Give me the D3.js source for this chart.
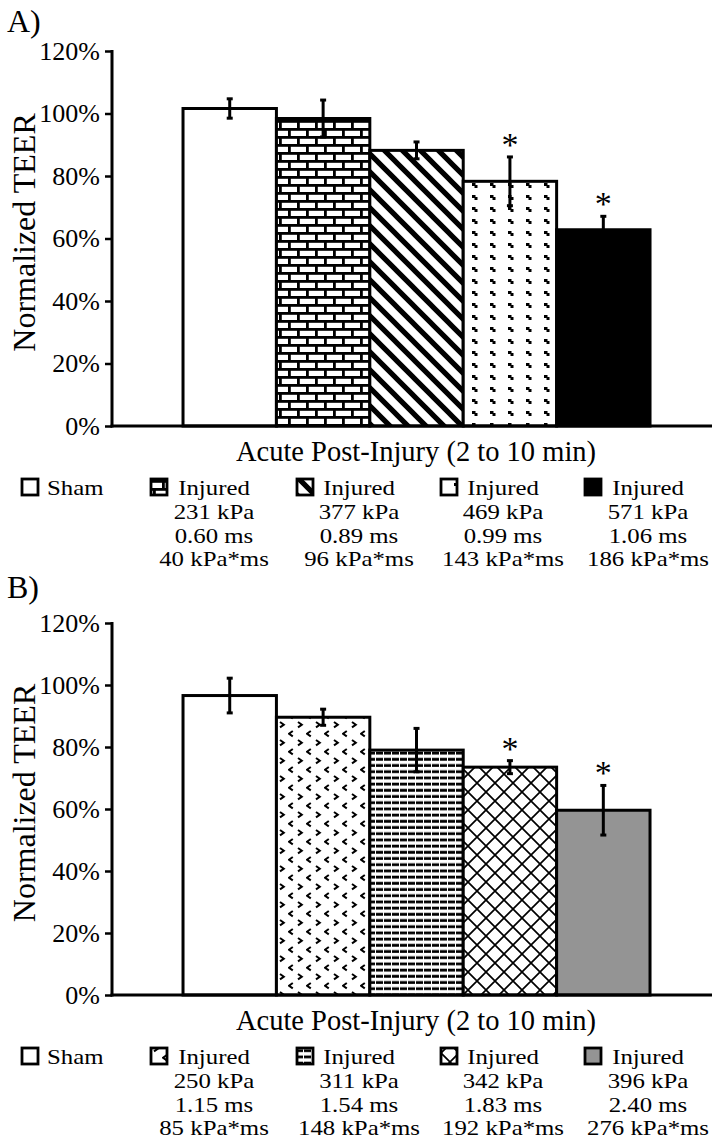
<!DOCTYPE html>
<html>
<head>
<meta charset="utf-8">
<script src="https://cdnjs.cloudflare.com/ajax/libs/d3/7.8.5/d3.min.js"></script>
<style>
  html, body { margin: 0; padding: 0; background: #fff; }
  svg { display: block; }
  text { font-family: "Liberation Serif", "Times New Roman", Times, serif; fill: #000; }
</style>
</head>
<body>
<svg id="chart" width="715" height="1145"></svg>
<script>
// ---------------- DATA ----------------
const categories = ["Acute Post-Injury (2 to 10 min)"];
const yTicks = [0, 20, 40, 60, 80, 100, 120];

const seriesA = ["Sham", "Injured 231 kPa", "Injured 377 kPa", "Injured 469 kPa", "Injured 571 kPa"];
const valuesA = [101.6, 98.4, 88.2, 78.3, 62.8];
const errorsA = [3.1, 5.9, 2.7, 7.8, 4.3];
const starsA  = [false, false, false, true, true];
const legendA = [
  ["Sham"],
  ["Injured", "231 kPa", "0.60 ms", "40 kPa*ms"],
  ["Injured", "377 kPa", "0.89 ms", "96 kPa*ms"],
  ["Injured", "469 kPa", "0.99 ms", "143 kPa*ms"],
  ["Injured", "571 kPa", "1.06 ms", "186 kPa*ms"]
];

const seriesB = ["Sham", "Injured 250 kPa", "Injured 311 kPa", "Injured 342 kPa", "Injured 396 kPa"];
const valuesB = [96.6, 89.6, 79.0, 73.5, 59.6];
const errorsB = [5.6, 2.6, 7.0, 2.1, 8.0];
const starsB  = [false, false, false, true, true];
const legendB = [
  ["Sham"],
  ["Injured", "250 kPa", "1.15 ms", "85 kPa*ms"],
  ["Injured", "311 kPa", "1.54 ms", "148 kPa*ms"],
  ["Injured", "342 kPa", "1.83 ms", "192 kPa*ms"],
  ["Injured", "396 kPa", "2.40 ms", "276 kPa*ms"]
];

const fillsA = ["#ffffff", "url(#brick)", "url(#diag)", "url(#dots)", "#000000"];
const fillsB = ["#ffffff", "url(#chev)", "url(#hlines)", "url(#diam)", "#949494"];

const FONT = '"Liberation Serif", "Times New Roman", Times, serif';

// ---------------- PATTERNS ----------------
const svg = d3.select("#chart");
const defs = svg.append("defs");

function pat(id, w, h) {
  const p = defs.append("pattern").attr("id", id)
    .attr("patternUnits", "userSpaceOnUse").attr("width", w).attr("height", h);
  p.append("rect").attr("width", w).attr("height", h).attr("fill", "#fff");
  return p;
}
// brick
{
  const p = pat("brick", 18, 16);
  p.append("rect").attr("x", 0).attr("y", 0).attr("width", 18).attr("height", 2.8).attr("fill", "#000");
  p.append("rect").attr("x", 0).attr("y", 8).attr("width", 18).attr("height", 2.8).attr("fill", "#000");
  p.append("rect").attr("x", 0).attr("y", 0).attr("width", 2.8).attr("height", 8).attr("fill", "#000");
  p.append("rect").attr("x", 9).attr("y", 8).attr("width", 2.8).attr("height", 8).attr("fill", "#000");
}
// diagonal stripes
{
  const p = pat("diag", 18, 18);
  p.append("path").attr("d", "M-5,-5 L23,23 M-5,13 L5,23 M13,-5 L23,5")
    .attr("stroke", "#000").attr("stroke-width", 5.2);
}
// small dashes
{
  const p = pat("dots", 18, 12);
  p.append("rect").attr("x", 4).attr("y", 3).attr("width", 3.5).attr("height", 3).attr("fill", "#000");
  p.append("rect").attr("x", 6.5).attr("y", 5).attr("width", 3).attr("height", 3).attr("fill", "#000");
}
// chevrons
{
  const p = pat("chev", 18, 18);
  p.append("path").attr("d", "M10,2 L13.8,4.7 L10,7.4").attr("fill", "none")
    .attr("stroke", "#000").attr("stroke-width", 2);
  p.append("path").attr("d", "M4.8,11 L1,13.7 L4.8,16.4").attr("fill", "none")
    .attr("stroke", "#000").attr("stroke-width", 2);
}
// horizontal lines
{
  const p = pat("hlines", 8, 6.2);
  p.append("rect").attr("x", 0).attr("y", 1.5).attr("width", 7).attr("height", 2.8).attr("fill", "#000");
}
// diamond cross-hatch
{
  const p = pat("diam", 18, 18);
  p.append("path").attr("d", "M0,0 L18,18 M18,0 L0,18")
    .attr("stroke", "#000").attr("stroke-width", 1.7);
}

// ---------------- PANEL ----------------
function drawPanel(cfg) {
  const g = svg.append("g");
  const y = d3.scaleLinear().domain([0, 120]).range([cfg.y0, cfg.y1]);
  const x = d3.scaleBand().domain(categories).range([112, 712])
    .paddingInner(0).paddingOuter(0.1424).align(0.534);
  const xs = d3.scaleBand().domain(d3.range(cfg.values.length))
    .range([0, x.bandwidth()]).padding(0);

  // panel letter
  g.append("text").attr("x", 7).attr("y", cfg.letterY)
    .attr("font-size", 32).text(cfg.letter);

  // y axis
  const ya = g.append("g").attr("transform", "translate(112,0)")
    .call(d3.axisLeft(y).tickValues(yTicks).tickSize(7).tickPadding(5)
      .tickFormat(d => d + "%"));
  ya.attr("font-family", FONT);
  ya.select(".domain").attr("stroke", "#000").attr("stroke-width", 3)
    .attr("d", `M0,${cfg.y1 - 1}V${cfg.y0 + 1.5}`);
  ya.selectAll(".tick line").attr("stroke", "#000").attr("stroke-width", 2.5);
  ya.selectAll(".tick text").attr("font-size", 26)
    .attr("font-family", FONT).attr("fill", "#000");

  // y title
  g.append("text")
    .attr("transform", `translate(${cfg.titleX},${(cfg.y0 + cfg.y1) / 2 - 6}) rotate(-90)`)
    .attr("text-anchor", "middle").attr("font-size", 32).text("Normalized TEER");

  // bars
  const bx = (i) => x(categories[0]) + xs(i);
  g.selectAll("rect.bar").data(cfg.values).enter().append("rect")
    .attr("class", "bar")
    .attr("x", (d, i) => bx(i))
    .attr("y", d => y(d))
    .attr("width", xs.bandwidth())
    .attr("height", d => y(0) - y(d))
    .attr("fill", (d, i) => cfg.fills[i])
    .attr("stroke", "#000").attr("stroke-width", 3);

  // x axis
  const xa = g.append("g").attr("transform", `translate(0,${cfg.y0})`)
    .call(d3.axisBottom(x).tickSize(0).tickFormat(""));
  xa.select(".domain").attr("stroke", "#000").attr("stroke-width", 3)
    .attr("d", "M110.5,0H712");

  // error bars
  cfg.values.forEach((v, i) => {
    const cx = bx(i) + xs.bandwidth() / 2;
    const e = cfg.errors[i];
    g.append("line").attr("x1", cx).attr("x2", cx)
      .attr("y1", y(v + e)).attr("y2", y(v - e))
      .attr("stroke", "#000").attr("stroke-width", 3);
    [v + e, v - e].forEach(t => {
      g.append("line").attr("x1", cx - 3).attr("x2", cx + 3)
        .attr("y1", y(t)).attr("y2", y(t))
        .attr("stroke", "#000").attr("stroke-width", 3);
    });
    if (cfg.stars[i]) {
      g.append("text").attr("x", cx).attr("y", y(v + e) - 1)
        .attr("text-anchor", "middle").attr("font-size", 34).text("*");
    }
  });

  // x title
  g.append("text").attr("x", 416).attr("y", cfg.y0 + 35)
    .attr("text-anchor", "middle").attr("font-size", 28.5).text(categories[0]);

  // legend
  const sqX = [22, 151, 297, 441, 585];
  const txC = [47, 214, 359, 503, 648];
  const base = cfg.y0 + 69;
  const LS = 23.8;
  cfg.legend.forEach((lines, i) => {
    g.append("rect").attr("x", sqX[i]).attr("y", base - 16)
      .attr("width", 16).attr("height", 16)
      .attr("fill", cfg.fills[i]).attr("stroke", "#000").attr("stroke-width", 2.8);
    lines.forEach((s, j) => {
      g.append("text")
        .attr("transform", `translate(${txC[i]},${base + j * LS}) scale(1.16,1)`)
        .attr("text-anchor", i === 0 ? "start" : "middle")
        .attr("font-size", 21.4).text(s);
    });
  });
}

drawPanel({
  letter: "A)", letterY: 32, y0: 426, y1: 51, titleX: 35,
  values: valuesA, errors: errorsA, stars: starsA, fills: fillsA, legend: legendA
});
drawPanel({
  letter: "B)", letterY: 598, y0: 995, y1: 623, titleX: 35,
  values: valuesB, errors: errorsB, stars: starsB, fills: fillsB, legend: legendB
});
</script>
</body>
</html>
